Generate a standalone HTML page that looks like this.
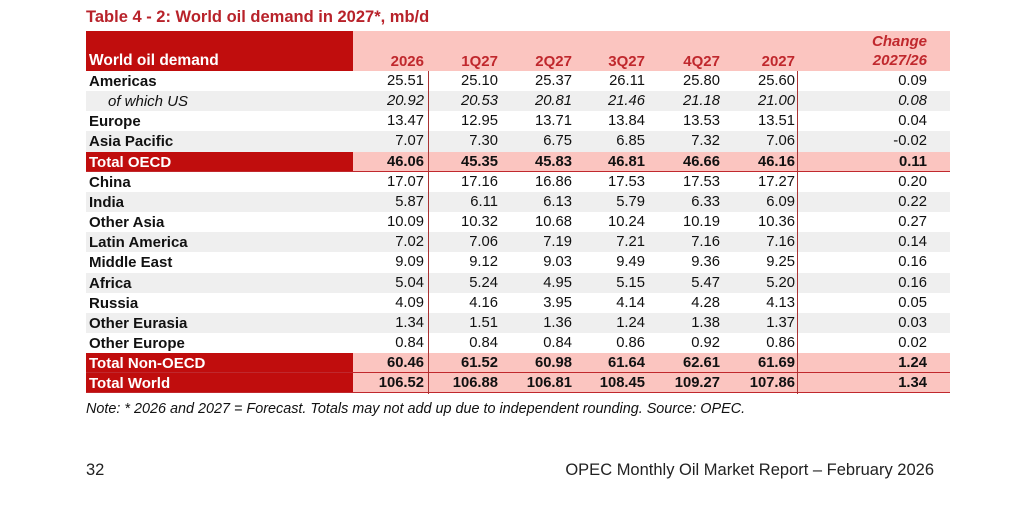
<!DOCTYPE html>
<html><head><style>
body{margin:0;width:1025px;height:528px;background:#fff;position:relative;font-family:"Liberation Sans",Arial,sans-serif;overflow:hidden}
.t{position:absolute;left:86px;top:8px;font-size:16.5px;font-weight:bold;color:#b8222a}
.hdr{position:absolute;top:31px;left:86px;width:864px;height:40px;background:#fbc5c0}
.hdr .l{position:absolute;left:0;top:0;width:267px;height:40px;background:#c00d0d}
.hdr span{position:absolute;bottom:1px;font-size:15px;font-weight:bold;color:#c0282d}
.row{position:absolute;left:86px;width:864px;height:20.15px;font-size:14.8px;color:#111}
.row span{position:absolute;top:2px;text-align:right;z-index:1}
.row .n{left:3px;font-weight:bold;text-align:left;font-size:15px}
.g{background:#efefef}
.tot{background:#fbc5c0;font-weight:bold;border-bottom:1.5px solid #c0282d;box-sizing:border-box}
.tot .n{color:#fff}
.tot::before{content:"";position:absolute;left:0;top:0;width:267px;height:100%;background:#c00d0d}
.vl{position:absolute;width:1px;background:#a33}
.note{position:absolute;left:86px;top:401px;font-size:14.4px;font-style:italic;color:#111}
.f{position:absolute;top:461px;font-size:16.5px;color:#222}
</style></head><body>
<div class="t">Table 4 - 2: World oil demand in 2027*, mb/d</div>
<div class="hdr"><div class="l"></div>
<span style="left:3px;color:#fff;font-size:15.5px">World oil demand</span>
<span style="right:526px">2026</span><span style="right:452px">1Q27</span><span style="right:378px">2Q27</span><span style="right:305px">3Q27</span><span style="right:230px">4Q27</span><span style="right:155px">2027</span>
<span style="right:23px;text-align:right;font-style:italic;line-height:19px">Change<br>2027/26</span>
</div>
<div id="rows"></div>
<div class="vl" style="left:428px;top:71px;height:323px"></div>
<div class="vl" style="left:797px;top:71px;height:323px"></div>
<div class="note">Note: * 2026 and 2027 = Forecast. Totals may not add up due to independent rounding. Source: OPEC.</div>
<div class="f" style="left:86px">32</div>
<div class="f" style="right:91px">OPEC Monthly Oil Market Report – February 2026</div>
<script>
var d=[["Americas","25.51","25.10","25.37","26.11","25.80","25.60","0.09",""],
["of which US","20.92","20.53","20.81","21.46","21.18","21.00","0.08","g i"],
["Europe","13.47","12.95","13.71","13.84","13.53","13.51","0.04",""],
["Asia Pacific","7.07","7.30","6.75","6.85","7.32","7.06","-0.02","g"],
["Total OECD","46.06","45.35","45.83","46.81","46.66","46.16","0.11","tot"],
["China","17.07","17.16","16.86","17.53","17.53","17.27","0.20",""],
["India","5.87","6.11","6.13","5.79","6.33","6.09","0.22","g"],
["Other Asia","10.09","10.32","10.68","10.24","10.19","10.36","0.27",""],
["Latin America","7.02","7.06","7.19","7.21","7.16","7.16","0.14","g"],
["Middle East","9.09","9.12","9.03","9.49","9.36","9.25","0.16",""],
["Africa","5.04","5.24","4.95","5.15","5.47","5.20","0.16","g"],
["Russia","4.09","4.16","3.95","4.14","4.28","4.13","0.05",""],
["Other Eurasia","1.34","1.51","1.36","1.24","1.38","1.37","0.03","g"],
["Other Europe","0.84","0.84","0.84","0.86","0.92","0.86","0.02",""],
["Total Non-OECD","60.46","61.52","60.98","61.64","62.61","61.69","1.24","tot"],
["Total World","106.52","106.88","106.81","108.45","109.27","107.86","1.34","tot"]];
var R=[526,452,378,305,230,155,23],h="";
d.forEach(function(r,i){var c=r[8],it=c.indexOf("i")>=0;
h+='<div class="row '+c.replace(" i","")+'" style="top:'+(71+i*20.15)+'px'+(it?';font-style:italic':'')+'">';
h+='<span class="n"'+(it?' style="left:22px;font-weight:normal"':'')+'>'+r[0]+'</span>';
for(var k=0;k<7;k++)h+='<span style="right:'+R[k]+'px">'+r[k+1]+'</span>';
h+='</div>';});
document.getElementById("rows").innerHTML=h;
</script>
</body></html>
